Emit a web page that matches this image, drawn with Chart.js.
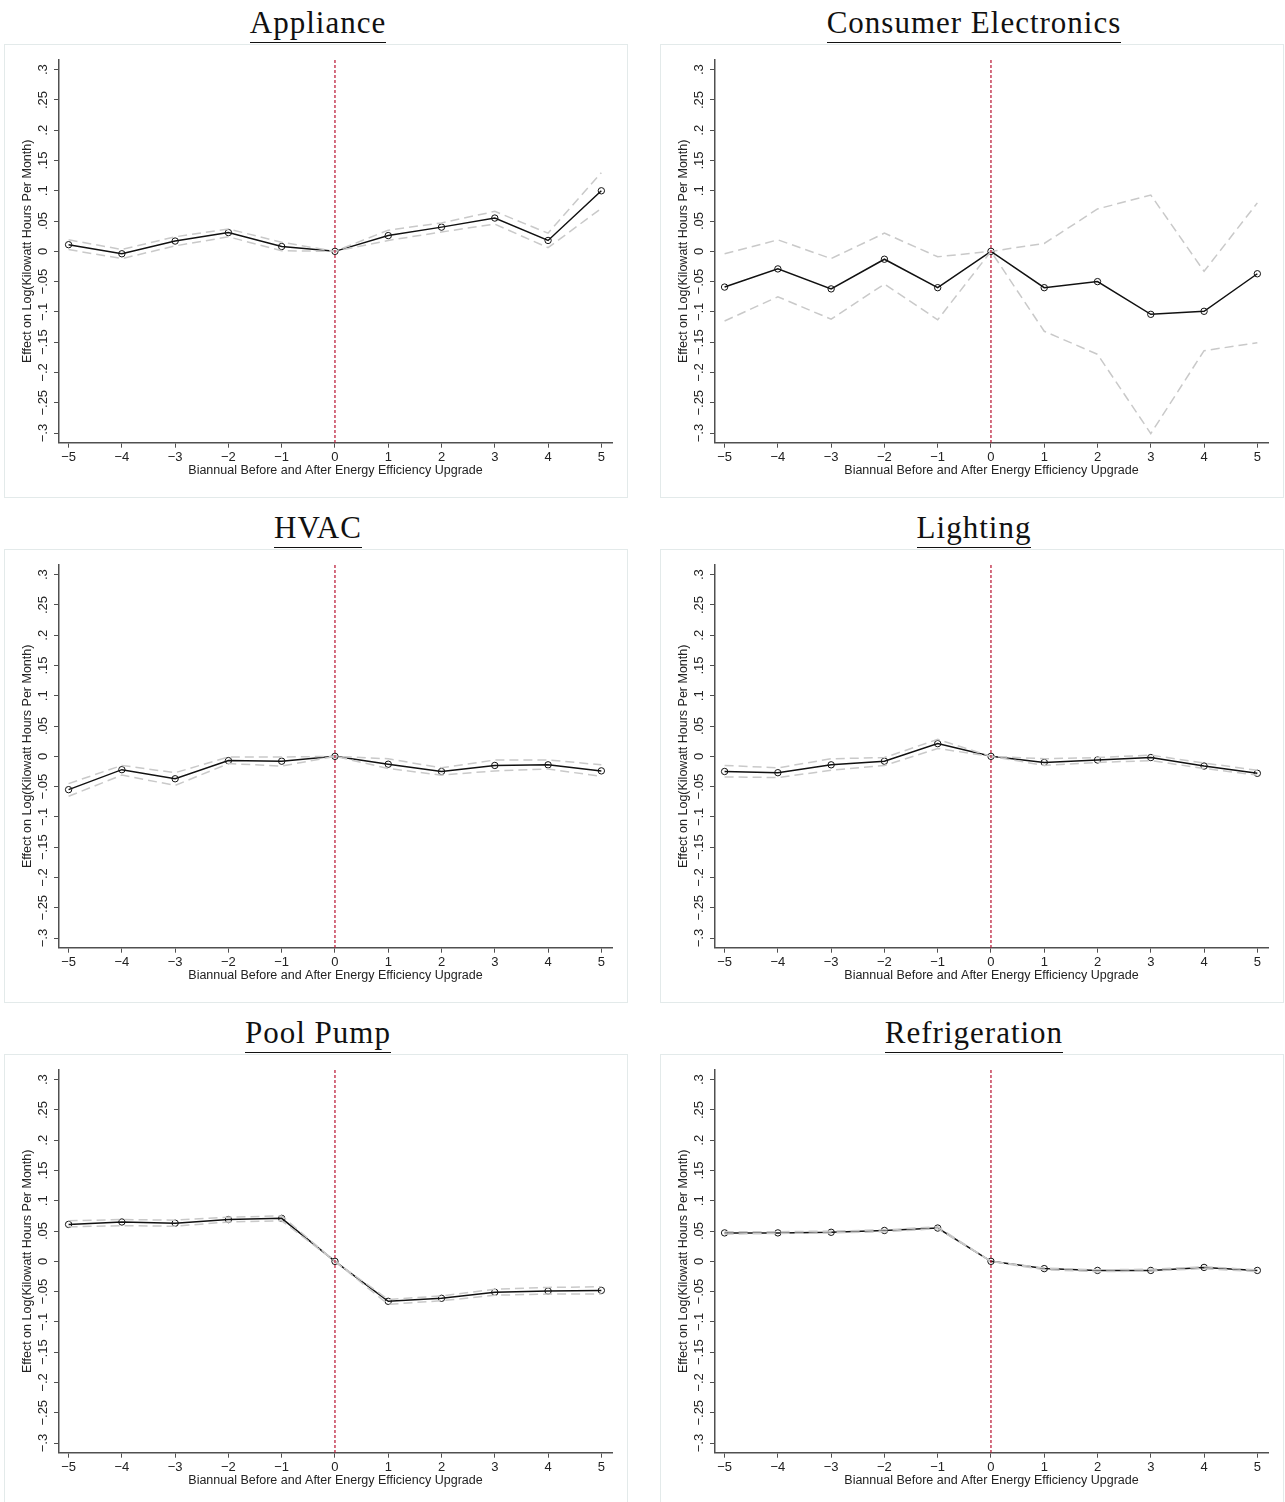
<!DOCTYPE html>
<html>
<head>
<meta charset="utf-8">
<title>Event study by end use</title>
<script src="https://cdn.jsdelivr.net/npm/chart.js@4.4.0/dist/chart.umd.min.js"></script>
<style>
    body { margin: 0; background: #fff; }
    #page { position: relative; width: 1285px; height: 1502px; overflow: hidden; }
    .panel-title {
        position: absolute;
        width: 624px;
        text-align: center;
        font-family: 'Liberation Serif', 'Times New Roman', serif;
        font-size: 31px;
        letter-spacing: 1px;
        color: #111;
    }
    .panel-title span {
        display: inline-block;
        line-height: 31px;
        padding-bottom: 4px;
        border-bottom: 1.5px solid #111;
    }
    .panel-box {
        position: absolute;
        width: 622px;
        height: 452px;
        border: 1px solid #e3eaea;
    }
    .panel-box canvas { position: absolute; left: 0; top: 0; }
</style>
</head>
<body>
<div id="page"></div>
<script>
const periods = [-5, -4, -3, -2, -1, 0, 1, 2, 3, 4, 5];
const yTicks = [0.3, 0.25, 0.2, 0.15, 0.1, 0.05, 0, -0.05, -0.1, -0.15, -0.2, -0.25, -0.3];
const eventPeriod = 0;
const xTitle = 'Biannual Before and After Energy Efficiency Upgrade';
const yTitle = 'Effect on Log(Kilowatt Hours Per Month)';
const titles = ['Appliance', 'Consumer Electronics', 'HVAC', 'Lighting', 'Pool Pump', 'Refrigeration'];

// point estimates and 95% bounds, one group per end use
const applianceEst = [0.011, -0.004, 0.017, 0.031, 0.008, 0, 0.026, 0.040, 0.055, 0.018, 0.100];
const applianceHi = [0.019, 0.003, 0.024, 0.037, 0.015, 0, 0.035, 0.047, 0.066, 0.030, 0.130];
const applianceLo = [0.003, -0.012, 0.009, 0.024, 0.001, 0, 0.018, 0.032, 0.045, 0.006, 0.071];

const electronicsEst = [-0.059, -0.029, -0.062, -0.013, -0.060, 0, -0.060, -0.050, -0.104, -0.099, -0.037];
const electronicsHi = [-0.004, 0.019, -0.012, 0.030, -0.009, 0, 0.013, 0.070, 0.093, -0.033, 0.080];
const electronicsLo = [-0.115, -0.075, -0.112, -0.054, -0.113, 0, -0.132, -0.170, -0.301, -0.164, -0.151];

const hvacEst = [-0.055, -0.022, -0.037, -0.007, -0.008, 0, -0.013, -0.025, -0.015, -0.014, -0.024];
const hvacHi = [-0.045, -0.015, -0.027, -0.001, -0.001, 0, -0.004, -0.019, -0.006, -0.006, -0.014];
const hvacLo = [-0.066, -0.031, -0.048, -0.012, -0.016, 0, -0.020, -0.031, -0.024, -0.021, -0.033];

const lightingEst = [-0.025, -0.027, -0.014, -0.008, 0.021, 0, -0.010, -0.006, -0.002, -0.016, -0.028];
const lightingHi = [-0.015, -0.019, -0.004, -0.002, 0.028, 0, -0.004, -0.002, 0.002, -0.011, -0.023];
const lightingLo = [-0.034, -0.035, -0.023, -0.015, 0.013, 0, -0.015, -0.010, -0.007, -0.020, -0.031];

const poolEst = [0.061, 0.065, 0.063, 0.069, 0.071, 0, -0.066, -0.061, -0.051, -0.049, -0.048];
const poolHi = [0.067, 0.069, 0.068, 0.073, 0.075, 0, -0.063, -0.057, -0.046, -0.043, -0.042];
const poolLo = [0.057, 0.059, 0.058, 0.065, 0.067, 0, -0.071, -0.065, -0.056, -0.054, -0.054];

const fridgeEst = [0.047, 0.047, 0.048, 0.051, 0.055, 0, -0.012, -0.015, -0.015, -0.010, -0.015];
const fridgeHi = [0.049, 0.049, 0.050, 0.052, 0.057, 0, -0.011, -0.014, -0.013, -0.009, -0.014];
const fridgeLo = [0.045, 0.046, 0.047, 0.049, 0.054, 0, -0.014, -0.017, -0.016, -0.012, -0.017];

const panels = [
    { title: titles[0], est: applianceEst, hi: applianceHi, lo: applianceLo },
    { title: titles[1], est: electronicsEst, hi: electronicsHi, lo: electronicsLo },
    { title: titles[2], est: hvacEst, hi: hvacHi, lo: hvacLo },
    { title: titles[3], est: lightingEst, hi: lightingHi, lo: lightingLo },
    { title: titles[4], est: poolEst, hi: poolHi, lo: poolLo },
    { title: titles[5], est: fridgeEst, hi: fridgeHi, lo: fridgeLo },
];

const sansFont = "'Liberation Sans', Arial, Helvetica, sans-serif";
const axisColor = '#505050';
const textColor = '#222';

function fmtX(v) {
    return v < 0 ? '\u2212' + Math.abs(v) : String(v);
}

function fmtY(v) {
    if (Math.abs(v) < 1e-9) return '0';
    const s = Math.abs(v).toFixed(2).replace(/0+$/, '').replace(/^0/, '');
    return (v < 0 ? '\u2212' : '') + s;
}

function toPoints(values) {
    return periods.map((p, i) => ({ x: p, y: values[i] }));
}

// dashed red marker at the upgrade period
const eventLine = {
    id: 'eventLine',
    afterDatasetsDraw(chart) {
        const ctx = chart.ctx;
        const x = chart.scales.x.getPixelForValue(eventPeriod);
        const { top, bottom } = chart.chartArea;
        ctx.save();
        ctx.strokeStyle = '#b8112f';
        ctx.lineWidth = 1.2;
        ctx.setLineDash([3, 2]);
        ctx.beginPath();
        ctx.moveTo(x, top);
        ctx.lineTo(x, bottom);
        ctx.stroke();
        ctx.restore();
    },
};

// Stata style vertical y tick labels
const rotatedYLabels = {
    id: 'rotatedYLabels',
    afterDraw(chart) {
        const ctx = chart.ctx;
        const scale = chart.scales.y;
        ctx.save();
        ctx.font = '13px ' + sansFont;
        ctx.fillStyle = textColor;
        ctx.textAlign = 'center';
        ctx.textBaseline = 'middle';
        scale.ticks.forEach((tick) => {
            const y = scale.getPixelForValue(tick.value);
            ctx.save();
            ctx.translate(38, y);
            ctx.rotate(-Math.PI / 2);
            ctx.fillText(fmtY(tick.value), 0, 0);
            ctx.restore();
        });
        ctx.restore();
    },
};

const page = document.getElementById('page');

panels.forEach((panel, i) => {
    const col = i % 2;
    const row = Math.floor(i / 2);
    const left = col === 0 ? 4 : 660;
    const rowTop = row * 505;

    const title = document.createElement('div');
    title.className = 'panel-title';
    title.style.left = (left + 2) + 'px';
    title.style.top = (rowTop + 5.2) + 'px';
    const span = document.createElement('span');
    span.textContent = panel.title;
    title.appendChild(span);
    page.appendChild(title);

    const box = document.createElement('div');
    box.className = 'panel-box';
    box.style.left = left + 'px';
    box.style.top = (rowTop + 44) + 'px';
    const canvas = document.createElement('canvas');
    canvas.width = 622;
    canvas.height = 452;
    box.appendChild(canvas);
    page.appendChild(box);

    const ciStyle = {
        borderColor: '#c9c9c9',
        borderWidth: 1.5,
        borderDash: [9, 5],
        pointRadius: 0,
        fill: false,
        tension: 0,
    };

    new Chart(canvas, {
        type: 'line',
        data: {
            datasets: [
                { ...ciStyle, label: 'Upper', data: toPoints(panel.hi) },
                { ...ciStyle, label: 'Lower', data: toPoints(panel.lo) },
                {
                    label: 'Estimate',
                    data: toPoints(panel.est),
                    borderColor: '#111',
                    borderWidth: 1.5,
                    pointRadius: 3.2,
                    pointBorderWidth: 1,
                    pointBorderColor: '#111',
                    pointBackgroundColor: 'rgba(0,0,0,0)',
                    fill: false,
                    tension: 0,
                },
            ],
        },
        options: {
            responsive: false,
            animation: false,
            events: [],
            layout: { padding: { left: 0, right: 15, top: 15, bottom: 0 } },
            plugins: { legend: { display: false }, tooltip: { enabled: false } },
            scales: {
                x: {
                    type: 'linear',
                    min: -5.18,
                    max: 5.2,
                    afterBuildTicks: (s) => { s.ticks = periods.map((v) => ({ value: v })); },
                    afterFit: (s) => { s.height = 54.3; },
                    ticks: {
                        callback: (v) => fmtX(v),
                        color: textColor,
                        font: { family: sansFont, size: 13 },
                        padding: 2,
                        maxRotation: 0,
                        autoSkip: false,
                    },
                    grid: { drawOnChartArea: false, tickLength: 5, color: axisColor, lineWidth: 1 },
                    border: { color: axisColor, width: 1.5 },
                    title: {
                        display: true,
                        text: xTitle,
                        color: textColor,
                        font: { family: sansFont, size: 12.5 },
                        padding: { top: 0, bottom: 18.8 },
                    },
                },
                y: {
                    min: -0.316,
                    max: 0.316,
                    afterBuildTicks: (s) => { s.ticks = yTicks.map((v) => ({ value: v })); },
                    afterFit: (s) => { s.width = 54; },
                    ticks: { display: false },
                    grid: { drawOnChartArea: false, tickLength: 5, color: axisColor, lineWidth: 1 },
                    border: { color: axisColor, width: 1.5 },
                    title: {
                        display: true,
                        text: yTitle,
                        color: textColor,
                        font: { family: sansFont, size: 12.5 },
                        padding: { top: 15.3, bottom: 0 },
                    },
                },
            },
        },
        plugins: [eventLine, rotatedYLabels],
    });
});
</script>
</body>
</html>
